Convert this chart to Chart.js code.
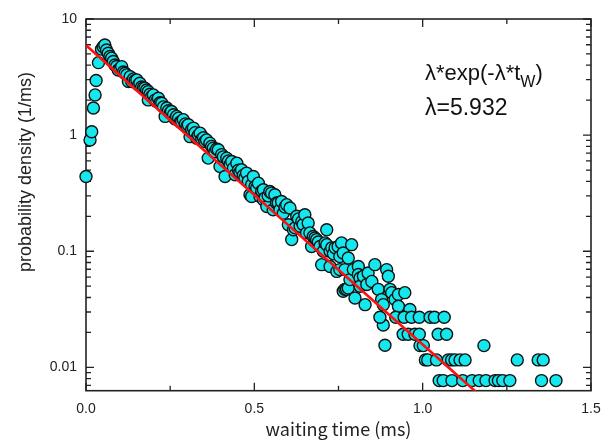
<!DOCTYPE html>
<html>
<head>
<meta charset="utf-8">
<script src="https://cdn.jsdelivr.net/npm/chart.js@4.4.1/dist/chart.umd.min.js"></script>
<style>
  html, body { margin: 0; padding: 0; background: #fff; }
  #wrap { width: 605px; height: 446px; }
</style>
</head>
<body>
<div id="wrap"><canvas id="c"></canvas></div>
<script>
// histogram of waiting times (ms) -> probability density (1/ms)
const waitTimes = [
  0.000, 0.012, 0.017, 0.022, 0.027, 0.030, 0.037, 0.046, 0.051, 0.056, 0.061, 0.066, 0.071, 0.076, 0.081, 0.086,
  0.091, 0.096, 0.101, 0.106, 0.111, 0.116, 0.121, 0.126, 0.131, 0.136, 0.141, 0.146, 0.151, 0.156, 0.160, 0.165,
  0.170, 0.175, 0.180, 0.185, 0.185, 0.190, 0.195, 0.200, 0.205, 0.210, 0.215, 0.220, 0.225, 0.230, 0.235, 0.240,
  0.245, 0.250, 0.254, 0.260, 0.265, 0.269, 0.275, 0.280, 0.284, 0.289, 0.295, 0.300, 0.304, 0.309, 0.314, 0.319,
  0.324, 0.329, 0.334, 0.339, 0.344, 0.349, 0.353, 0.358, 0.363, 0.368, 0.373, 0.378, 0.383, 0.388, 0.393, 0.398,
  0.403, 0.408, 0.413, 0.418, 0.423, 0.428, 0.433, 0.438, 0.443, 0.448, 0.453, 0.457, 0.462, 0.467, 0.472, 0.477,
  0.482, 0.487, 0.492, 0.492, 0.497, 0.502, 0.507, 0.512, 0.517, 0.522, 0.527, 0.527, 0.532, 0.537, 0.541, 0.546,
  0.551, 0.556, 0.561, 0.566, 0.571, 0.576, 0.581, 0.586, 0.591, 0.596, 0.601, 0.606, 0.611, 0.616, 0.621, 0.626,
  0.631, 0.636, 0.641, 0.645, 0.650, 0.655, 0.660, 0.665, 0.670, 0.675, 0.680, 0.685, 0.690, 0.695, 0.700, 0.705,
  0.710, 0.715, 0.715, 0.725, 0.725, 0.730, 0.735, 0.740, 0.745, 0.749, 0.754, 0.754, 0.759, 0.764, 0.764, 0.769,
  0.769, 0.774, 0.779, 0.779, 0.784, 0.789, 0.794, 0.799, 0.809, 0.809, 0.814, 0.814, 0.824, 0.829, 0.834, 0.838,
  0.849, 0.858, 0.868, 0.878, 0.883, 0.883, 0.888, 0.893, 0.898, 0.903, 0.908, 0.918, 0.928, 0.928, 0.947, 0.962,
  0.873, 0.920, 0.945, 0.967, 0.990, 1.022, 1.035, 1.064,
  0.942, 0.957, 0.977, 0.990, 1.046, 1.071,
  0.992, 1.002, 1.182,
  1.008, 1.015, 1.041, 1.076, 1.086, 1.096, 1.111, 1.126, 1.281, 1.343, 1.358,
  1.049, 1.061, 1.087, 1.119, 1.147, 1.168, 1.188, 1.215, 1.225, 1.238, 1.259, 1.353, 1.396
];
const densities = [
  0.44, 0.91, 1.07, 1.71, 2.22, 2.95, 4.21, 5.5, 5.78, 5.97, 5.41, 5.07, 4.75, 4.6, 4.30, 4.02,
  3.9, 3.64, 3.75, 3.89, 3.5, 3.41, 3.3, 2.89, 3.19, 2.89, 3.05, 2.95, 2.99, 2.7, 2.80, 2.6,
  2.55, 2.54, 2.45, 2.37, 2.01, 2.25, 2.15, 2.22, 2.0, 1.95, 2.08, 1.9, 1.88, 1.75, 1.45, 1.71,
  1.62, 1.55, 1.60, 1.50, 1.38, 1.45, 1.40, 1.30, 1.31, 1.36, 1.25, 1.20, 1.23, 0.97, 1.12, 1.15,
  1.05, 0.94, 1.00, 1.04, 0.92, 0.95, 0.88, 0.91, 0.634, 0.853, 0.80, 0.773, 0.72, 0.76, 0.748, 0.537,
  0.68, 0.65, 0.44, 0.634, 0.60, 0.56, 0.593, 0.52, 0.456, 0.574, 0.50, 0.48, 0.503, 0.45, 0.43, 0.471,
  0.40, 0.307, 0.374, 0.296, 0.44, 0.36, 0.35, 0.386, 0.296, 0.33, 0.339, 0.278, 0.287, 0.243, 0.30, 0.327,
  0.317, 0.228, 0.307, 0.26, 0.260, 0.228, 0.268, 0.213, 0.24, 0.252, 0.169, 0.236, 0.126, 0.153, 0.159, 0.200,
  0.19, 0.164, 0.18, 0.17, 0.206, 0.144, 0.175, 0.144, 0.110, 0.134, 0.13, 0.126, 0.12, 0.110, 0.0767, 0.10,
  0.118, 0.153, 0.114, 0.0998, 0.074, 0.107, 0.095, 0.107, 0.0671, 0.110, 0.090, 0.0695, 0.118, 0.0966, 0.0452, 0.0695,
  0.047, 0.047, 0.0874, 0.0483, 0.057, 0.114, 0.0695, 0.0396, 0.074, 0.063, 0.0589, 0.050, 0.061, 0.0347, 0.0517, 0.065,
  0.055, 0.0767, 0.047, 0.0384, 0.0347, 0.0232, 0.0155, 0.0695, 0.061, 0.047, 0.044, 0.0384, 0.0424, 0.0336, 0.044, 0.0315,
  0.027, 0.027, 0.027, 0.027, 0.027, 0.027, 0.027, 0.027,
  0.0193, 0.0193, 0.0193, 0.0193, 0.0193, 0.0193,
  0.0154, 0.0154, 0.0154,
  0.0116, 0.0116, 0.0116, 0.0116, 0.0116, 0.0116, 0.0116, 0.0116, 0.0116, 0.0116, 0.0116,
  0.0077, 0.0077, 0.0077, 0.0077, 0.0077, 0.0077, 0.0077, 0.0077, 0.0077, 0.0077, 0.0077, 0.0077, 0.0077
];

const lambda = 5.932;              // fitted rate, 1/ms
const fitTimes = [0, 0.2, 0.4, 0.6, 0.8, 1.0, 1.2];
const xTicks = [0, 0.5, 1.0, 1.5];
const xMinor = [0.25, 0.75, 1.25];
const yTicks = [0.01, 0.1, 1, 10];
const yMinor = [0.007, 0.008, 0.009, 0.02, 0.03, 0.04, 0.05, 0.06, 0.07, 0.08, 0.09,
                0.2, 0.3, 0.4, 0.5, 0.6, 0.7, 0.8, 0.9, 2, 3, 4, 5, 6, 7, 8, 9];

const points = waitTimes.map((t, i) => ({ x: t, y: densities[i] }));
const fitLine = fitTimes.map(t => ({ x: t, y: lambda * Math.exp(-lambda * t) }));

// frame + inward ticks on all four sides
const frameTicks = {
  id: 'frameTicks',
  beforeDatasetsDraw(chart) {
    const { ctx, chartArea: a, scales: { x, y } } = chart;
    ctx.save();
    ctx.strokeStyle = '#222';
    ctx.lineWidth = 1.6;
    ctx.strokeRect(a.left, a.top, a.right - a.left, a.bottom - a.top);
    ctx.lineWidth = 1.3;
    ctx.beginPath();
    const xt = (v, len) => {
      const px = x.getPixelForValue(v);
      ctx.moveTo(px, a.bottom); ctx.lineTo(px, a.bottom - len);
      ctx.moveTo(px, a.top); ctx.lineTo(px, a.top + len);
    };
    const yt = (v, len) => {
      const py = y.getPixelForValue(v);
      ctx.moveTo(a.left, py); ctx.lineTo(a.left + len, py);
      ctx.moveTo(a.right, py); ctx.lineTo(a.right - len, py);
    };
    xTicks.forEach(v => xt(v, 8));
    xMinor.forEach(v => xt(v, 5));
    yTicks.forEach(v => yt(v, 8));
    yMinor.forEach(v => yt(v, 5));
    ctx.stroke();
    // y axis title sits a little above the axis middle in the original
    ctx.translate(26, 172);
    ctx.rotate(-Math.PI / 2);
    ctx.fillStyle = '#222';
    ctx.textAlign = 'center';
    ctx.textBaseline = 'middle';
    ctx.font = '18px "Liberation Sans", Arial, sans-serif';
    ctx.fillText('probability density (1/ms)', 0, 0);
    ctx.restore();
  }
};

// formula annotation
const formulaText = {
  id: 'formulaText',
  afterDraw(chart) {
    const ctx = chart.ctx;
    ctx.save();
    ctx.fillStyle = '#111';
    ctx.textBaseline = 'alphabetic';
    ctx.font = '22px "Liberation Sans", Arial, sans-serif';
    const x0 = 425, y0 = 80;
    const main = 'λ*exp(-λ*t';
    ctx.fillText(main, x0, y0);
    let w = ctx.measureText(main).width;
    ctx.font = '16px "Liberation Sans", Arial, sans-serif';
    ctx.fillText('W', x0 + w, y0 + 7);
    w += ctx.measureText('W').width;
    ctx.font = '22px "Liberation Sans", Arial, sans-serif';
    ctx.fillText(')', x0 + w, y0);
    ctx.font = '23px "Liberation Sans", Arial, sans-serif';
    ctx.fillText('λ=5.932', x0, y0 + 35);
    ctx.restore();
  }
};

new Chart(document.getElementById('c'), {
  type: 'scatter',
  data: {
    datasets: [
      { type: 'line', data: fitLine, borderColor: '#ff1010', borderWidth: 2.6, pointRadius: 0, tension: 0, order: 0 },
      { data: points, backgroundColor: '#14e8ee', borderColor: '#111', borderWidth: 1.4, pointRadius: 6, clip: false, order: 1 }
    ]
  },
  options: {
    responsive: true, maintainAspectRatio: false, animation: false,
    layout: { padding: { top: 19, right: 14, left: 0, bottom: 0 } },
    plugins: { legend: { display: false }, tooltip: { enabled: false } },
    scales: {
      x: {
        type: 'linear', min: 0, max: 1.5,
        afterBuildTicks: s => { s.ticks = xTicks.map(v => ({ value: v })); },
        afterFit: s => { s.height = 55.3; s.paddingLeft = 0; s.paddingRight = 0; },
        grid: { display: false, drawTicks: false },
        border: { display: false },
        ticks: { color: '#222', padding: 10, maxRotation: 0, font: { family: '"Liberation Sans", Arial', size: 14 }, callback: v => v.toFixed(1) },
        title: { display: true, text: 'waiting time (ms)', color: '#222', padding: { top: 0, bottom: 6 },
                 font: { family: '"Noto Sans CJK JP", sans-serif', size: 18 } }
      },
      y: {
        type: 'logarithmic', min: 0.0063, max: 10,
        afterBuildTicks: s => { s.ticks = yTicks.map(v => ({ value: v })); },
        afterFit: s => { s.width = 86; s.paddingTop = 0; s.paddingBottom = 0; },
        grid: { display: false, drawTicks: false },
        border: { display: false },
        ticks: { color: '#222', padding: 9, font: { family: '"Liberation Sans", Arial', size: 14 }, callback: v => String(v) }
      }
    }
  },
  plugins: [frameTicks, formulaText]
});
</script>
</body>
</html>
